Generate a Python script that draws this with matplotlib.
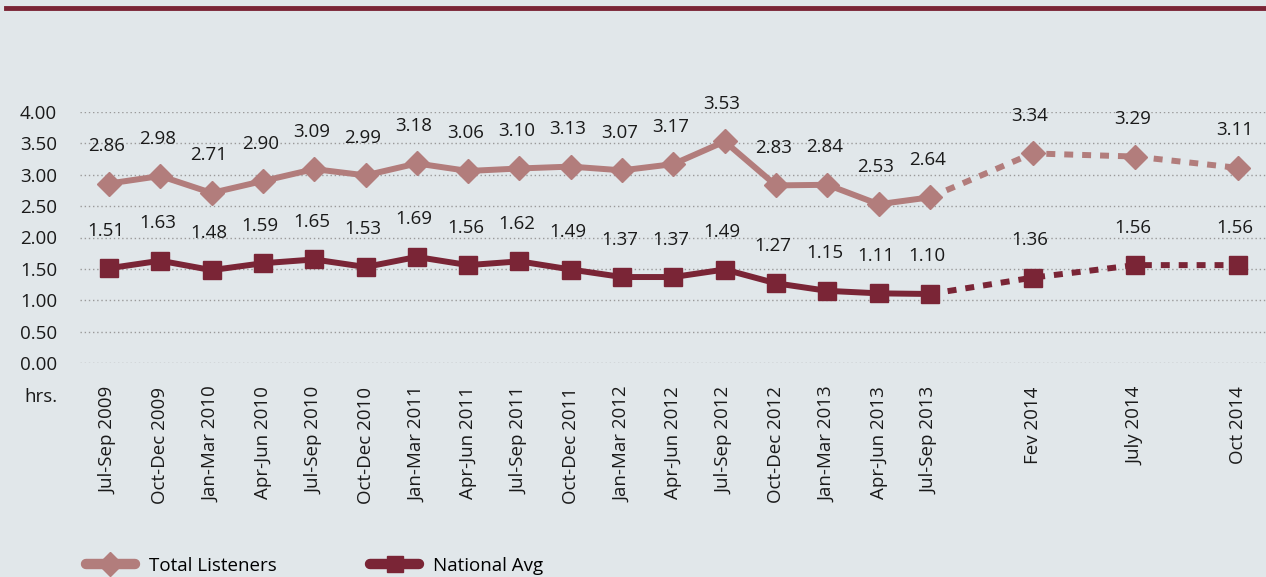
import matplotlib
matplotlib.use("Agg")
import matplotlib.pyplot as plt
from matplotlib.lines import Line2D

plt.rcParams['font.family'] = ['Open Sans', 'DejaVu Sans']

# datos
periodos = ["Jul-Sep 2009", "Oct-Dec 2009", "Jan-Mar 2010", "Apr-Jun 2010",
            "Jul-Sep 2010", "Oct-Dec 2010", "Jan-Mar 2011", "Apr-Jun 2011",
            "Jul-Sep 2011", "Oct-Dec 2011", "Jan-Mar 2012", "Apr-Jun 2012",
            "Jul-Sep 2012", "Oct-Dec 2012", "Jan-Mar 2013", "Apr-Jun 2013",
            "Jul-Sep 2013", "Fev 2014", "July 2014", "Oct 2014"]
posiciones = [0, 1, 2, 3, 4, 5, 6, 7, 8, 9, 10, 11, 12, 13, 14, 15, 16, 18, 20, 22]
total_listeners = [2.86, 2.98, 2.71, 2.90, 3.09, 2.99, 3.18, 3.06, 3.10, 3.13,
                   3.07, 3.17, 3.53, 2.83, 2.84, 2.53, 2.64, 3.34, 3.29, 3.11]
national_avg = [1.51, 1.63, 1.48, 1.59, 1.65, 1.53, 1.69, 1.56, 1.62, 1.49,
                1.37, 1.37, 1.49, 1.27, 1.15, 1.11, 1.10, 1.36, 1.56, 1.56]
corte = 16  # desde aca la linea es punteada

col_total = '#b27d7c'
col_nat = '#7a2536'
fondo = '#e1e7ea'
fs = 13.5

W, H = 1266, 577
fig = plt.figure(figsize=(W / 100, H / 100), dpi=100, facecolor=fondo)
ax = fig.add_axes([80 / W, (H - 363) / H, (W - 80) / W, 251 / H])
ax.set_facecolor(fondo)

def serie(vals, color, marker, ms):
    ax.plot(posiciones[:corte + 1], vals[:corte + 1], color=color, lw=4.3,
            solid_capstyle='round', zorder=3)
    ax.plot(posiciones[corte:], vals[corte:], color=color, lw=4.3,
            linestyle=(0, (1.5, 1.5)), dash_capstyle='butt', zorder=3)
    ax.plot(posiciones, vals, linestyle='none', marker=marker, ms=ms,
            color=color, zorder=4)
    for x, v in zip(posiciones, vals):
        ax.annotate(f"{v:.2f}", (x, v), xytext=(-2, 27), textcoords='offset points',
                    ha='center', va='center', fontsize=fs, color='#1a1a1a',
                    annotation_clip=False)

serie(total_listeners, col_total, 'D', 12)
serie(national_avg, col_nat, 's', 13.5)

ax.set_ylim(0, 4)
ax.set_xlim(-0.565, 22.55)
ax.set_yticks([i * 0.5 for i in range(9)])
ax.set_yticklabels([f"{i * 0.5:.2f}" for i in range(9)], fontsize=fs, color='#1a1a1a')
ax.set_xticks(posiciones)
ax.set_xticklabels(periodos, rotation=90, fontsize=fs, color='#1a1a1a')
ax.tick_params(axis='x', length=0, pad=17)
ax.tick_params(axis='y', length=0, pad=16.5)
ax.yaxis.grid(True, linestyle=(0, (1, 2)), color='#9a9a9a', lw=1)
ax.set_axisbelow(True)
for s in ax.spines.values():
    s.set_visible(False)

fig.text(57 / W, 1 - 397 / H, "hrs.", ha='right', va='center', fontsize=fs, color='#1a1a1a')

# barra superior
fig.add_artist(Line2D([6 / W, 1], [1 - 8 / H, 1 - 8 / H], color=col_nat, lw=3.5))

# leyenda
handles = [Line2D([], [], color=col_total, lw=7.5, marker='D', ms=12, solid_capstyle='round'),
           Line2D([], [], color=col_nat, lw=7.5, marker='s', ms=12, solid_capstyle='round')]
fig.legend(handles, ["Total Listeners", "National Avg"], loc='center left',
           bbox_to_anchor=(86 / W, 1 - 566 / H), ncol=2, frameon=False,
           fontsize=fs, handlelength=2.6, columnspacing=5.0, handletextpad=0.75,
           borderaxespad=0, borderpad=0)

fig.savefig("out.png", dpi=100, facecolor=fondo)
